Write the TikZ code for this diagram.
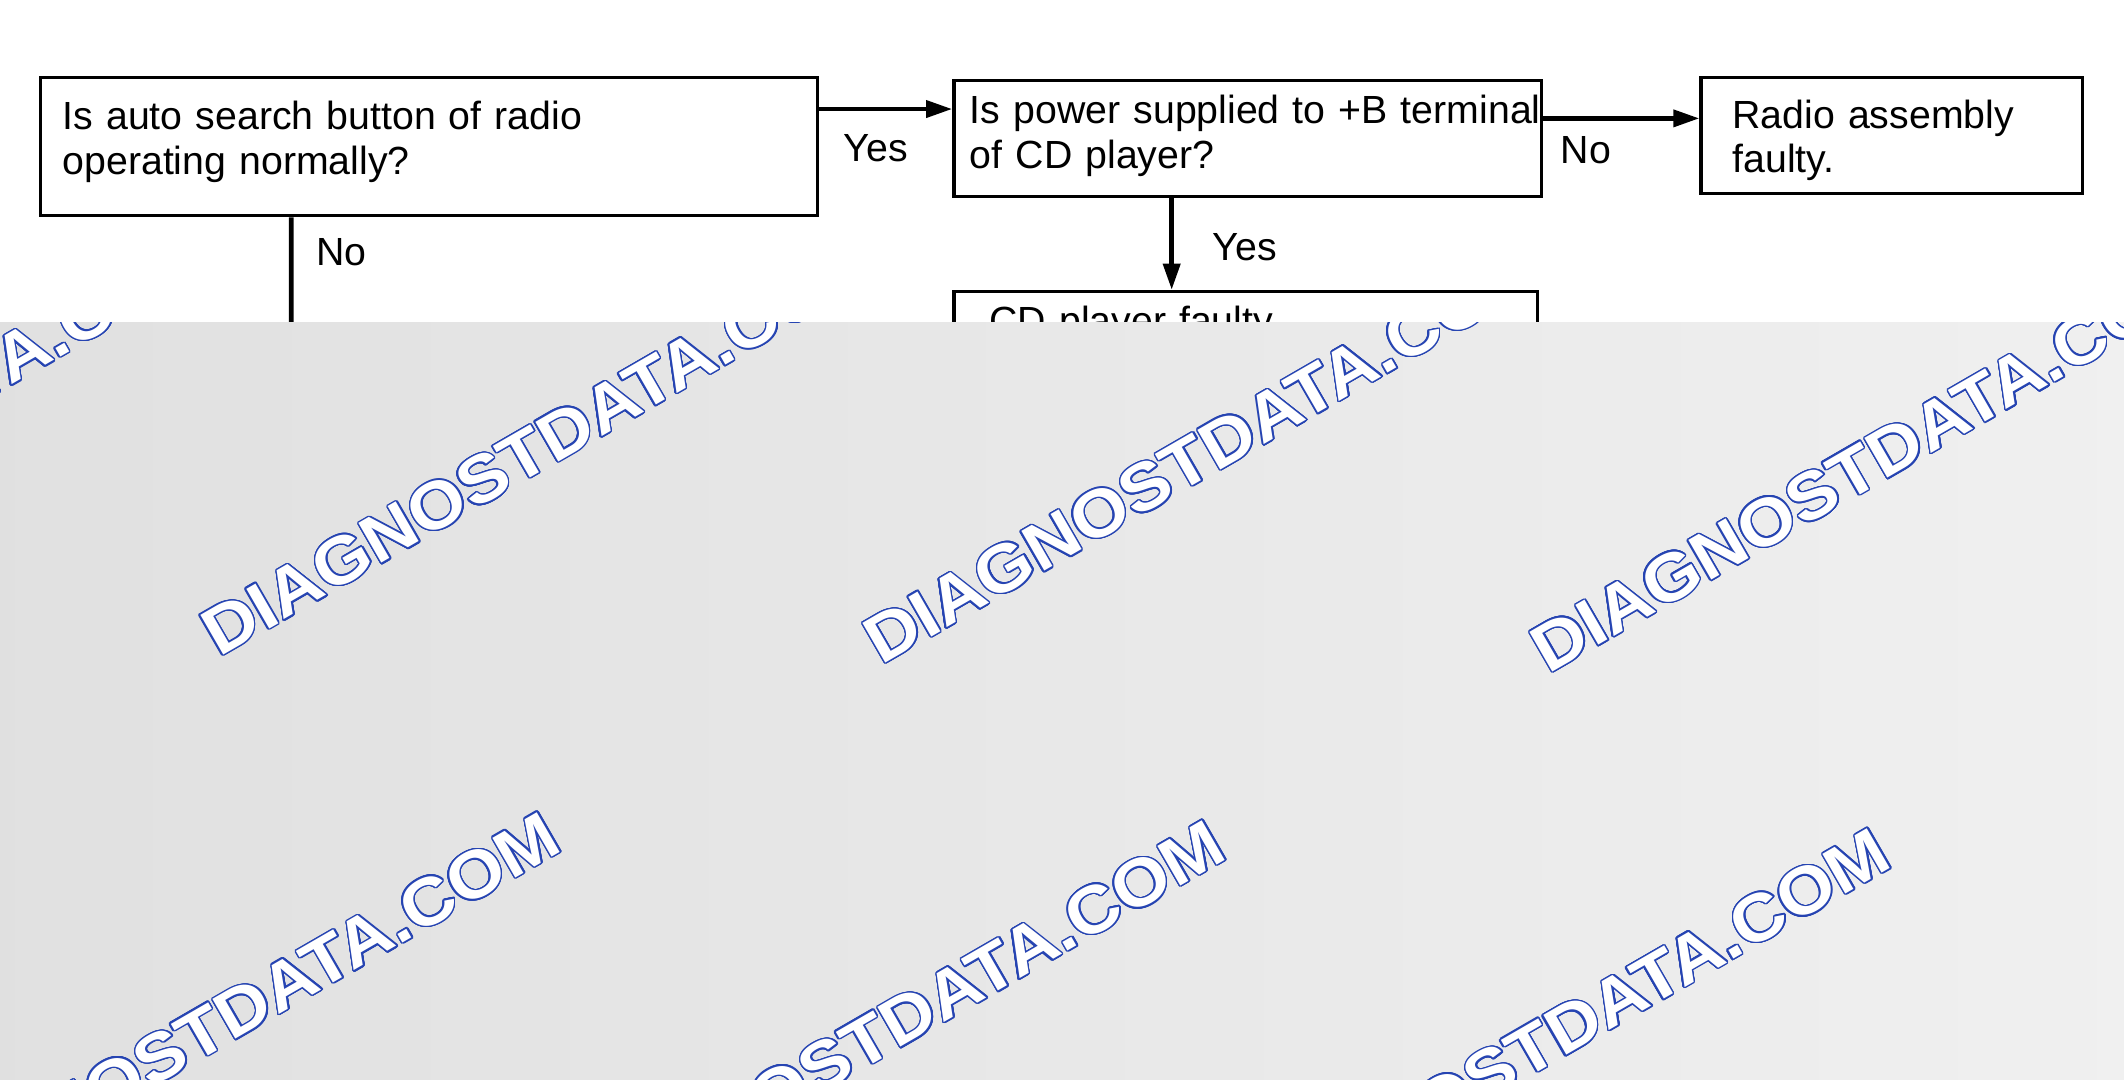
\documentclass[tikz,border=0pt]{standalone}
\usepackage{fontspec}
\setmainfont{Liberation Sans}
\usepackage{contour}
\usetikzlibrary{arrows.meta}
\contourlength{0.6pt}
\contournumber{24}
\definecolor{wmblue}{RGB}{38,68,178}
\tikzset{
  flowbox/.style={draw, line width=1.4pt, anchor=north west, align=left, inner ysep=0pt, font=\fontsize{16.5}{18.8}\selectfont},
  flowlabel/.style={anchor=base west, inner sep=0pt, font=\fontsize{16.5}{18.8}\selectfont},
  flowarrow/.style={line width=2pt, -{Triangle[length=11pt,width=7pt]}},
  wmtext/.style={anchor=base west, inner sep=0pt, rotate=30, xscale=1.1, text=white, font=\fontsize{28}{30}\selectfont\bfseries}
}
\begin{document}
\begin{tikzpicture}[x=0.02cm, y=-0.02cm]
\useasboundingbox (0,0) rectangle (1568,797);
\fill[white] (0,0) rectangle (1568,797);
%Boxes
\node[flowbox, inner xsep=0.33cm, text width=10.82cm, text height=0.77cm, text depth=1.27cm] (autosearch) at (28.5,56) {Is auto search button of radio\\operating normally?};
\node[flowbox, inner xsep=0.236cm, text width=8.208cm, text height=0.64cm, text depth=1.074cm] (powerB) at (703,58) {\mbox{Is power supplied to +B terminal}\\of CD player?};
\node[flowbox, inner xsep=0.462cm, text width=4.712cm, text height=0.748cm, text depth=0.96cm] (radiofault) at (1254.6,56) {Radio assembly\\faulty.};
\node[flowbox, inner xsep=0.524cm, text width=7.572cm, text height=0.64cm, text depth=1.2cm] (cdfault) at (703,214) {CD player faulty.};
%Arrows
\coordinate (yesA) at ([yshift=-0.49cm]autosearch.north east);
\draw[flowarrow] (yesA) -- (yesA -| powerB.west);
\coordinate (noA) at ([yshift=-0.588cm]powerB.north east);
\draw[flowarrow] (noA) -- (noA -| radiofault.west);
\coordinate (yesB) at ([xshift=3.24cm]powerB.south west);
\draw[flowarrow] (yesB) -- (yesB |- cdfault.north);
\coordinate (noB) at ([xshift=3.73cm]autosearch.south west);
\coordinate (noend) at (215,300);
\draw[line width=2pt] (noB) -- (noend);
%Labels
\node[flowlabel] (yeslbl1) at (622.5,119.4) {Yes};
\node[flowlabel] (nolbl1) at (1152,120.6) {No};
\node[flowlabel] (yeslbl2) at (895,192) {Yes};
\node[flowlabel] (nolbl2) at (233,196) {No};
%Watermark cover
\shade[left color=black!12, right color=black!6] (0,238) rectangle (1568,797);
\begin{scope}
\clip (0,238) rectangle (1568,797);
\foreach \wx/\wy [count=\i] in {-329.4/479.5, 161.5/485.6, 650.5/491.5, 1143/497.9, -76.5/912, 414.5/918, 905.5/924}
  \node[wmtext] (wm\i) at (\wx,\wy) {\contour{wmblue}{DIAGNOSTDATA.COM}};
\end{scope}
\end{tikzpicture}
\end{document}
